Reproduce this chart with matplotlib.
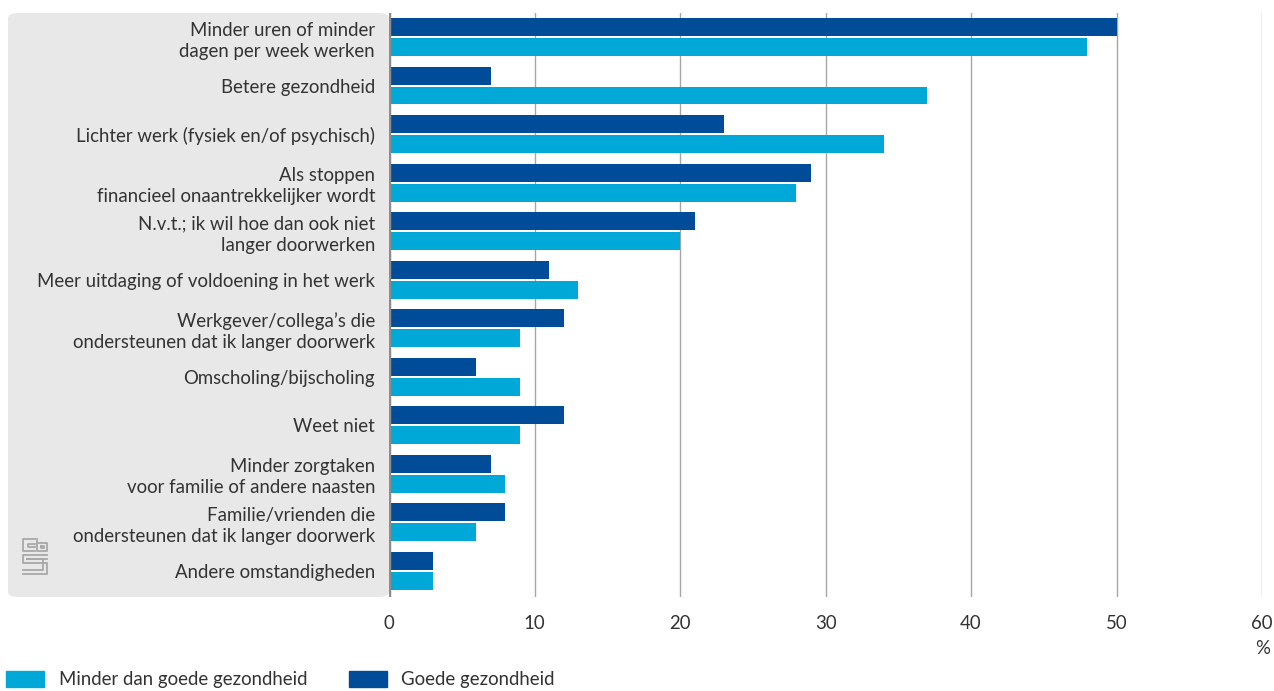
import numpy as np
import matplotlib.pyplot as plt
from matplotlib.patches import FancyBboxPatch, Rectangle
from matplotlib.lines import Line2D

plt.rcParams['font.family'] = ['Lato', 'DejaVu Sans']

# data
categories = [
    'Minder uren of minder\ndagen per week werken',
    'Betere gezondheid',
    'Lichter werk (fysiek en/of psychisch)',
    'Als stoppen\nfinancieel onaantrekkelijker wordt',
    'N.v.t.; ik wil hoe dan ook niet\nlanger doorwerken',
    'Meer uitdaging of voldoening in het werk',
    'Werkgever/collega\u2019s die\nondersteunen dat ik langer doorwerk',
    'Omscholing/bijscholing',
    'Weet niet',
    'Minder zorgtaken\nvoor familie of andere naasten',
    'Familie/vrienden die\nondersteunen dat ik langer doorwerk',
    'Andere omstandigheden',
]
goede = [50, 7, 23, 29, 21, 11, 12, 6, 12, 7, 8, 3]
minder_goede = [48, 37, 34, 28, 20, 13, 9, 9, 9, 8, 6, 3]
xticks = [0, 10, 20, 30, 40, 50, 60]

c_dark = '#004c98'
c_light = '#00a8d8'
txt = '#333333'
fs = 13.4

fig = plt.figure(figsize=(12.74, 6.91), dpi=100)

# grey panel behind the labels
panel = FancyBboxPatch((8 / 1274, 1 - 597 / 691), (389 - 8) / 1274, (597 - 13) / 691,
                       boxstyle='round,pad=0,rounding_size=0.008',
                       transform=fig.transFigure, facecolor='#e8e8e8',
                       edgecolor='none', zorder=-5)
fig.patches.append(panel)

ax = fig.add_axes([389 / 1274, 1 - 597 / 691, (1262 - 389) / 1274, (597 - 13) / 691])
ax.patch.set_alpha(0)

y = np.arange(len(categories))
h = 0.37
ax.barh(y - h / 2 - 0.02, goede, height=h, color=c_dark, zorder=3)
ax.barh(y + h / 2 + 0.02, minder_goede, height=h, color=c_light, zorder=3)

ax.set_ylim(len(categories) - 0.46, -0.495)
ax.set_xlim(0, 60)
ax.set_yticks(y)
ax.set_yticklabels(categories, fontsize=fs, color=txt, linespacing=1.3)
ax.set_xticks(xticks)
ax.set_xticklabels([str(v) for v in xticks], fontsize=fs, color=txt)
ax.tick_params(axis='y', length=0, pad=10)
ax.tick_params(axis='x', length=0, pad=13)
for t in ax.get_yticklabels():
    t.set_horizontalalignment('right')

for s in ax.spines.values():
    s.set_visible(False)
ax.grid(axis='x', color='#a6a6a6', linewidth=1, zorder=1)
ax.axvline(0, color='#8c8c8c', linewidth=3.2, zorder=4)

fig.text(1263 / 1274, 1 - 648 / 691, '%', fontsize=fs, color=txt, ha='center', va='center')

# legend
leg_y = 1 - 679 / 691
fig.patches.append(Rectangle((6 / 1274, 1 - 687 / 691), 38 / 1274, 16 / 691,
                             transform=fig.transFigure, color=c_light))
fig.text(59 / 1274, leg_y, 'Minder dan goede gezondheid', fontsize=fs, color=txt, va='center')
fig.patches.append(Rectangle((349 / 1274, 1 - 687 / 691), 38 / 1274, 16 / 691,
                             transform=fig.transFigure, color=c_dark))
fig.text(401 / 1274, leg_y, 'Goede gezondheid', fontsize=fs, color=txt, va='center')

# simple cbs logo sketch
lc = '#a8a8a8'
def seg(xs, ys):
    fig.lines.append(Line2D([v / 1274 for v in xs], [1 - v / 691 for v in ys],
                            transform=fig.transFigure, color=lc, linewidth=1.3))
seg([35, 23, 23, 35], [539, 539, 551, 551])
seg([35, 28, 28, 35], [544, 544, 547, 547])
seg([37, 37, 47, 47, 37], [539, 551, 551, 543, 543])
seg([41, 44, 44, 41, 41], [546, 546, 548, 548, 546])
seg([47, 23, 23, 47, 47, 23], [555, 555, 563, 563, 574, 574])
seg([47, 27, 27, 43, 43, 23], [559, 559, 559, 559, 570, 570])

fig.savefig('out.png', dpi=100)
